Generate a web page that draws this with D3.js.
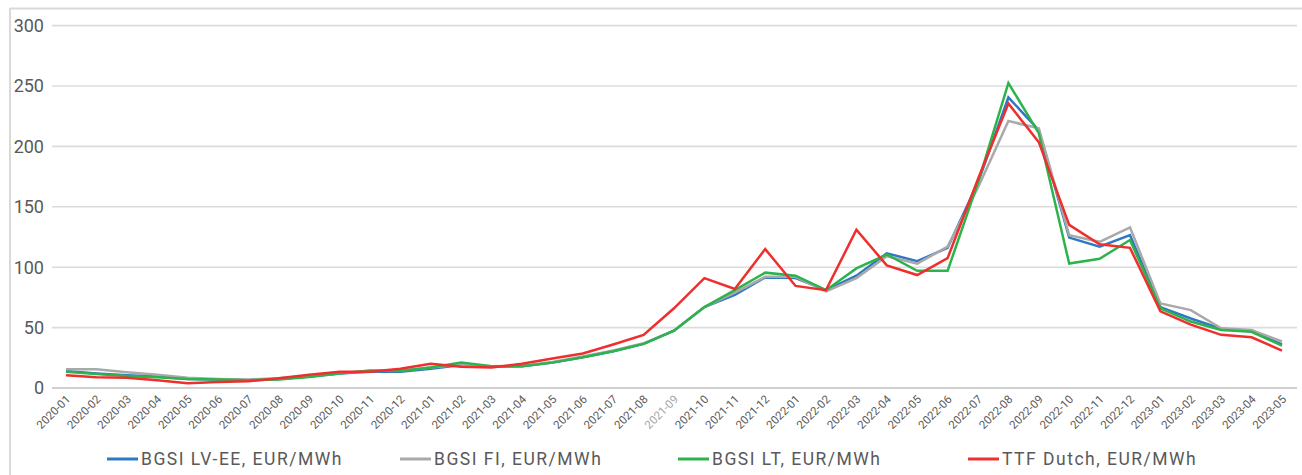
<!DOCTYPE html>
<html>
<head>
<meta charset="utf-8">
<script src="https://cdn.jsdelivr.net/npm/d3@7"></script>
<style>
  html, body { margin: 0; padding: 0; background: #fff; }
  svg { display: block; font-family: Roboto, sans-serif; }
</style>
</head>
<body>
<svg id="chart" width="1302" height="475"></svg>
<script>
const months = [
  '2020-01','2020-02','2020-03','2020-04','2020-05','2020-06','2020-07','2020-08','2020-09','2020-10','2020-11','2020-12',
  '2021-01','2021-02','2021-03','2021-04','2021-05','2021-06','2021-07','2021-08','2021-09','2021-10','2021-11','2021-12',
  '2022-01','2022-02','2022-03','2022-04','2022-05','2022-06','2022-07','2022-08','2022-09','2022-10','2022-11','2022-12',
  '2023-01','2023-02','2023-03','2023-04','2023-05'
];

const lvEe = [14, 12, 10.5, 9.5, 7.5, 7, 6.5, 7.5, 9.5, 12, 13.5, 13.5,
  16, 19, 17.5, 18, 21, 25.5, 30.5, 36.5, 47.5, 67, 77, 91.5,
  91, 81, 93, 111.5, 105, 116, 170, 240.5, 213.5, 124.5, 117, 126.5,
  67, 57.5, 49, 47, 36];

const fi = [15.5, 15.5, 13, 11, 8.5, 7.5, 7, 8, 10, 12.5, 14, 14.5,
  17, 19.5, 18, 18.5, 21.5, 26, 31, 37, 47.5, 67, 79, 92,
  92, 80, 91, 109, 103, 117, 166, 221, 215, 126.5, 121, 133,
  70, 64.5, 49.5, 48, 38.5];

const lt = [13.5, 11.5, 10, 9, 7.5, 7, 6.5, 7, 9, 12, 14.5, 14,
  17, 21, 18, 18, 21, 25.5, 30.5, 36.5, 47.5, 67, 81, 95.5,
  93, 81, 99, 110.5, 97, 97, 170, 252.5, 211, 103, 107, 122.5,
  66, 55, 48, 46.5, 35];

const ttf = [10.5, 9, 8.5, 6.5, 4, 5, 5.5, 8, 11, 13.5, 13.5, 16,
  20, 17.5, 17, 20, 24.5, 28.5, 36, 44, 66, 91, 82, 115,
  84.5, 81, 131, 101.5, 93.5, 107.5, 173, 235.5, 203.5, 135, 119, 116,
  63.5, 52.5, 44, 42, 31];

const yTicks = [0, 50, 100, 150, 200, 250, 300];

const seriesNames = ['BGSI LV-EE, EUR/MWh', 'BGSI FI, EUR/MWh', 'BGSI LT, EUR/MWh', 'TTF Dutch, EUR/MWh'];
const seriesColors = ['#2f78c4', '#a9a9a9', '#2db34c', '#ef2e2e'];
const seriesValues = [lvEe, fi, lt, ttf];

const svg = d3.select('#chart');

// outer frame (top + left edges visible)
svg.append('line').attr('x1', 10).attr('x2', 1302).attr('y1', 8.5).attr('y2', 8.5)
  .attr('stroke', '#d9d9d9').attr('stroke-width', 2);
svg.append('line').attr('x1', 10).attr('x2', 10).attr('y1', 8).attr('y2', 475)
  .attr('stroke', '#d9d9d9').attr('stroke-width', 2);

const x = d3.scalePoint().domain(months).range([66, 1282]);
const y = d3.scaleLinear().domain([0, 300]).range([388, 25.6]);

// gridlines
svg.append('g')
  .selectAll('line')
  .data(yTicks)
  .enter().append('line')
  .attr('x1', 52).attr('x2', 1297)
  .attr('y1', d => y(d)).attr('y2', d => y(d))
  .attr('stroke', d => d === 0 ? '#d0d0d0' : '#dcdcdc')
  .attr('stroke-width', d => d === 0 ? 2 : 1.6);

// y labels
svg.append('g')
  .selectAll('text')
  .data(yTicks)
  .enter().append('text')
  .attr('x', 44)
  .attr('y', d => y(d))
  .attr('dy', '0.36em')
  .attr('text-anchor', 'end')
  .attr('fill', '#595959')
  .style('font-size', '18px')
  .text(d => d);

// x labels, rotated
svg.append('g')
  .selectAll('text')
  .data(months)
  .enter().append('text')
  .attr('transform', d => `translate(${x(d) + 5},${400}) rotate(-45)`)
  .attr('text-anchor', 'end')
  .attr('fill', d => d === '2021-09' ? '#a6a6a6' : '#595959')
  .style('font-size', '11.5px')
  .text(d => d);

// lines
const line = d3.line()
  .x((d, i) => x(months[i]))
  .y(d => y(d));

svg.append('g')
  .selectAll('path')
  .data(seriesValues)
  .enter().append('path')
  .attr('d', d => line(d))
  .attr('fill', 'none')
  .attr('stroke', (d, i) => seriesColors[i])
  .attr('stroke-width', 2.5)
  .attr('stroke-linejoin', 'miter');

// legend
const legendX = [107, 400, 678, 968];
const legend = svg.append('g')
  .selectAll('g')
  .data(seriesNames)
  .enter().append('g')
  .attr('transform', (d, i) => `translate(${legendX[i]},459)`);

legend.append('line')
  .attr('x1', 0).attr('x2', 31)
  .attr('stroke', (d, i) => seriesColors[i])
  .attr('stroke-width', 3);

legend.append('text')
  .attr('x', 34)
  .attr('dy', '0.36em')
  .attr('fill', '#595959')
  .style('font-size', '17.5px')
  .style('letter-spacing', '1.5px')
  .text(d => d);
</script>
</body>
</html>
